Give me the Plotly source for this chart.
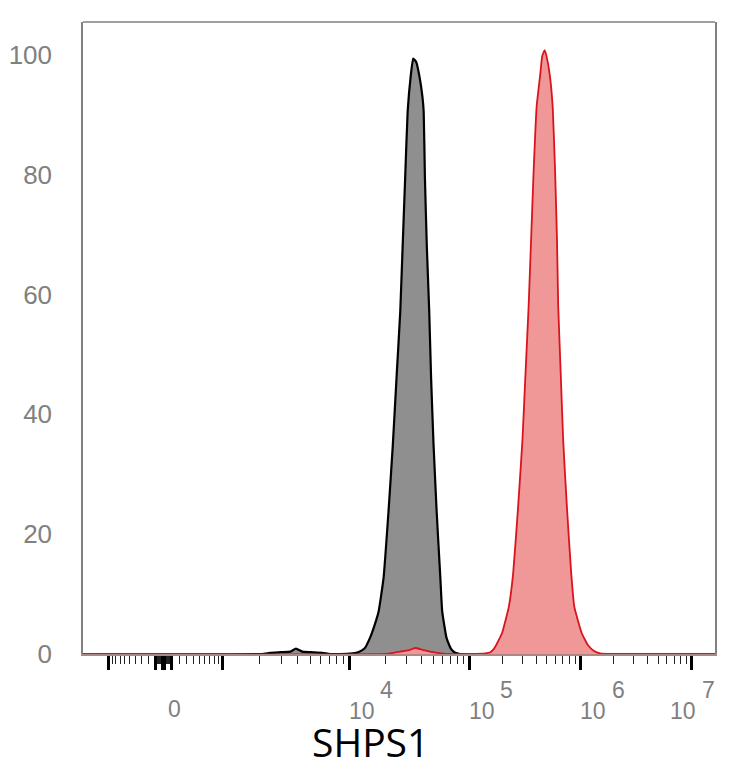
#############################################
# Flow histogram: SHPS1 staining vs control
#############################################

import numpy as np
import plotly.graph_objects as go

# x values are FlowJo-style display channels (0-1024 on a biexponential scale)
# y values are % of mode

# control (isotype) histogram - black outline, gray fill
control_ch = [0, 290, 303, 320, 336, 345, 355, 368, 388, 400, 417, 433, 446, 456, 465, 473,
              479, 487, 495, 502, 508, 514, 518, 522, 526, 531, 535, 540, 545, 550, 552,
              554, 557, 561, 564, 568, 573, 579, 582, 589, 596, 603, 611, 640, 1024]
control_pct = [0, 0, 0.2, 0.3, 0.4, 0.9, 0.4, 0.3, 0.2, 0, 0, 0.05, 0.3, 0.9, 2.7, 5.0,
               7.1, 12.7, 23.8, 34.9, 46.1, 57.1, 68.3, 79.5, 90.5, 96.5, 99.4, 98.8, 96.5, 93.0, 90.5,
               79.5, 68.3, 57.1, 46.1, 34.9, 23.8, 12.7, 7.1, 2.7, 0.9, 0.2, 0, 0, 0]

# SHPS1 stained histogram - red
shps1_ch = [0, 490, 503, 514, 527, 538, 550, 562, 574, 590, 627, 652, 660, 666, 671, 679,
            690, 697, 705, 712, 717, 722, 726, 730, 735, 741, 744, 748, 751, 756, 761,
            765, 768, 770, 774, 778, 784, 791, 796, 808, 818, 828, 838, 854, 1024]
shps1_pct = [0, 0, 0.2, 0.4, 0.6, 1.0, 0.7, 0.4, 0.2, 0, 0, 0.1, 0.3, 0.9, 1.8, 3.5,
             7.9, 13.5, 24.6, 35.7, 46.9, 58.0, 69.1, 80.3, 91.4, 96.9, 99.8, 100.8, 99.8, 96.9, 91.4,
             80.3, 69.1, 58.0, 46.9, 35.7, 24.6, 13.5, 7.9, 3.5, 1.5, 0.5, 0.1, 0, 0]

# axis calibration: where each decade sits in channel space
scale_values = [-1e3, 0, 1e3, 1e4, 1e5, 1e6, 1e7]
scale_channels = [41.5, 130.0, 225.6, 431.8, 626.1, 805.4, 986.3]

major_values = [-1e3, -1e2, -1e1, 0, 1e1, 1e2, 1e3, 1e4, 1e5, 1e6, 1e7]
y_ticks = [0, 20, 40, 60, 80, 100]

COFACTOR = 500.0


def to_channel(v):
	# biexponential-ish mapping (asinh) pinned to the decade positions
	a = np.arcsinh(np.asarray(v, dtype=float) / COFACTOR)
	ref = np.arcsinh(np.array(scale_values) / COFACTOR)
	return np.interp(a, ref, scale_channels)


def minor_values():
	vals = []
	for n in (1, 2):
		for k in range(2, 10):
			vals.append(k * 10 ** n)
			vals.append(-k * 10 ** n)
	for n in (3, 4, 5, 6):
		for k in range(2, 10):
			vals.append(k * 10 ** n)
	return vals


fig = go.Figure()
fig.add_trace(go.Scatter(
	x=control_ch, y=control_pct,
	mode='lines', line=dict(color='black', width=2.2, shape='spline', smoothing=0.4),
	fill='tozeroy', fillcolor='rgb(143,143,143)', hoverinfo='skip'
))
fig.add_trace(go.Scatter(
	x=shps1_ch, y=shps1_pct,
	mode='lines', line=dict(color='#d9141c', width=1.8, shape='spline', smoothing=0.4),
	fill='tozeroy', fillcolor='rgb(240,152,152)', hoverinfo='skip'
))

label_font = dict(family='Liberation Sans, Arial', size=23, color='#808080')

# x tick labels: "0" and 10^k drawn as base + raised exponent
labels = [(0, '0', None, 11, None)]
for k, base_shift, exp_shift in [(4, -3, 28), (5, -2, 29), (6, -2, 30), (7, -24, 8)]:
	labels.append((10 ** k, '10', str(k), base_shift, exp_shift))

for val, base, expo, bshift, eshift in labels:
	xc = float(to_channel(val))
	if expo is None:
		fig.add_annotation(x=xc, y=0, xref='x', yref='paper', text=base, showarrow=False,
			xanchor='center', yanchor='middle', xshift=bshift, yshift=-55, font=label_font)
		continue
	fig.add_annotation(x=xc, y=0, xref='x', yref='paper', text=base, showarrow=False,
		xanchor='left', yanchor='middle', xshift=bshift, yshift=-57, font=label_font)
	fig.add_annotation(x=xc, y=0, xref='x', yref='paper', text=expo, showarrow=False,
		xanchor='left', yanchor='middle', xshift=eshift, yshift=-36, font=label_font)

fig.add_annotation(x=0.455, y=0, xref='paper', yref='paper', text='SHPS1', showarrow=False,
	xanchor='center', yanchor='middle', yshift=-87,
	font=dict(family='Open Sans', size=39, color='black'))

# top border of the box
fig.add_shape(type='line', xref='paper', yref='paper', x0=0, x1=1, y0=1, y1=1,
	line=dict(color='#808080', width=1.5))

fig.update_xaxes(
	range=[0, 1024], showgrid=False, zeroline=False, automargin=False,
	showline=True, linecolor='#b08585', linewidth=1.5, mirror=False,
	tickmode='array', tickvals=to_channel(major_values).tolist(),
	ticks='outside', ticklen=14, tickwidth=3, tickcolor='black',
	showticklabels=False,
	minor=dict(tickmode='array', tickvals=to_channel(minor_values()).tolist(),
		ticks='outside', ticklen=8, tickwidth=1.3, tickcolor='#222222')
)
fig.update_yaxes(
	range=[0, 105.5], showgrid=False, zeroline=False, automargin=False,
	showline=True, linecolor='#808080', linewidth=1.5, mirror=True,
	tickmode='array', tickvals=y_ticks, ticks='',
	ticklabelstandoff=24, tickfont=dict(family='Liberation Sans, Arial', size=26, color='#808080')
)
fig.update_layout(
	width=734, height=768, showlegend=False,
	margin=dict(l=83, r=19, t=22, b=114),
	plot_bgcolor='white', paper_bgcolor='white'
)

# page body has a default 8px margin; drop it so the figure sits at the corner
fig.write_html('out.html', config={'displayModeBar': False},
	post_script="document.body.style.margin='0';")
